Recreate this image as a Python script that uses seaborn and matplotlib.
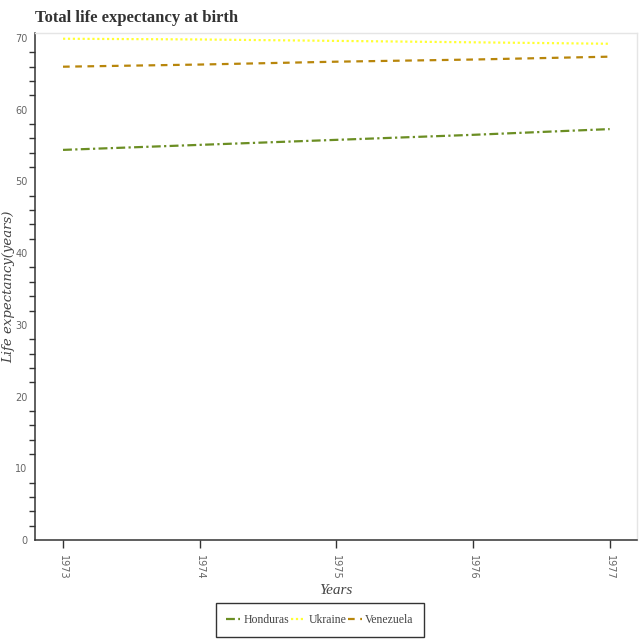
import matplotlib
matplotlib.use("Agg")
import matplotlib.pyplot as plt
import seaborn as sns
import pandas as pd
from matplotlib.ticker import MultipleLocator
from matplotlib.lines import Line2D

years = [1973, 1974, 1975, 1976, 1977]
honduras = [54.4, 55.1, 55.8, 56.5, 57.3]
ukraine = [69.9, 69.8, 69.6, 69.4, 69.2]
venezuela = [66.0, 66.3, 66.7, 67.0, 67.4]
countries = ["Honduras", "Ukraine", "Venezuela"]
colors = ["#6b8e23", "#ffff33", "#b8860b"]

df = pd.DataFrame({
    "Year": years * 3,
    "Value": honduras + ukraine + venezuela,
    "Country": [c for c in countries for _ in years],
})

sns.set_style("white")
fig = plt.figure(figsize=(6.4, 6.4), dpi=100)
ax = fig.add_axes([35/640, 100/640, 602/640, 507/640])

dash_map = {"Honduras": (4, 1.5, 1, 1.5), "Ukraine": (1, 1.2), "Venezuela": (3, 2.5)}
sns.lineplot(data=df, x="Year", y="Value", hue="Country", style="Country",
             palette=dict(zip(countries, colors)), dashes=dash_map,
             linewidth=1.6, ax=ax, legend=False)

ax.set_xlim(1972.795, 1977.2)
ax.set_ylim(0, 70.7)
ax.set_xticks(years)
ax.set_xticklabels([str(y) for y in years], rotation=270, fontsize=7, color="#666666")
ax.yaxis.set_major_locator(MultipleLocator(10))
ax.yaxis.set_minor_locator(MultipleLocator(2))
for lab in ax.get_yticklabels():
    lab.set_fontsize(7)
    lab.set_color("#666666")
ax.tick_params(axis="y", which="major", direction="inout", length=7, width=1, color="#333333", pad=2)
ax.tick_params(axis="y", which="minor", direction="out", length=4, width=1, color="#333333", left=True)
ax.tick_params(axis="x", which="major", direction="out", length=6, width=1, color="#333333", pad=5, bottom=True)

for s in ["left", "bottom"]:
    ax.spines[s].set_color("#333333")
    ax.spines[s].set_linewidth(1.1)
for s in ["top", "right"]:
    ax.spines[s].set_color("#e5e5e5")
    ax.spines[s].set_linewidth(1)

ax.set_xlabel("Years", fontsize=11, fontstyle="italic", family="Liberation Serif", color="#444444")
ax.xaxis.label.set_verticalalignment("center")
ax.xaxis.set_label_coords(0.5, (540 - 591) / 507)
ax.set_ylabel("Life expectancy(years)", fontsize=9.5, fontstyle="italic", family="DejaVu Serif", color="#444444")
ax.yaxis.label.set_verticalalignment("center")
ax.yaxis.set_label_coords((9 - 35) / 602, (540 - 287) / 507)
fig.text(35/640, 1 - 18/640, "Total life expectancy at birth", fontsize=12, fontweight="bold",
         family="Liberation Serif", color="#333333", va="center", ha="left")

handles = [Line2D([], [], color=c, linewidth=1.6, dashes=dash_map[n]) for n, c in zip(countries, colors)]
leg = fig.legend(handles, countries, loc="center", bbox_to_anchor=(320/640, 1 - 620/640),
                 ncol=3, frameon=True, fancybox=False, handlelength=1.2, handletextpad=0.3,
                 columnspacing=0.1, borderpad=0.9, prop={"family": "Liberation Serif", "size": 8.5})
leg.get_frame().set_edgecolor("#000000")
leg.get_frame().set_linewidth(1)
for t in leg.get_texts():
    t.set_color("#444444")

fig.savefig("out.png", dpi=100)
